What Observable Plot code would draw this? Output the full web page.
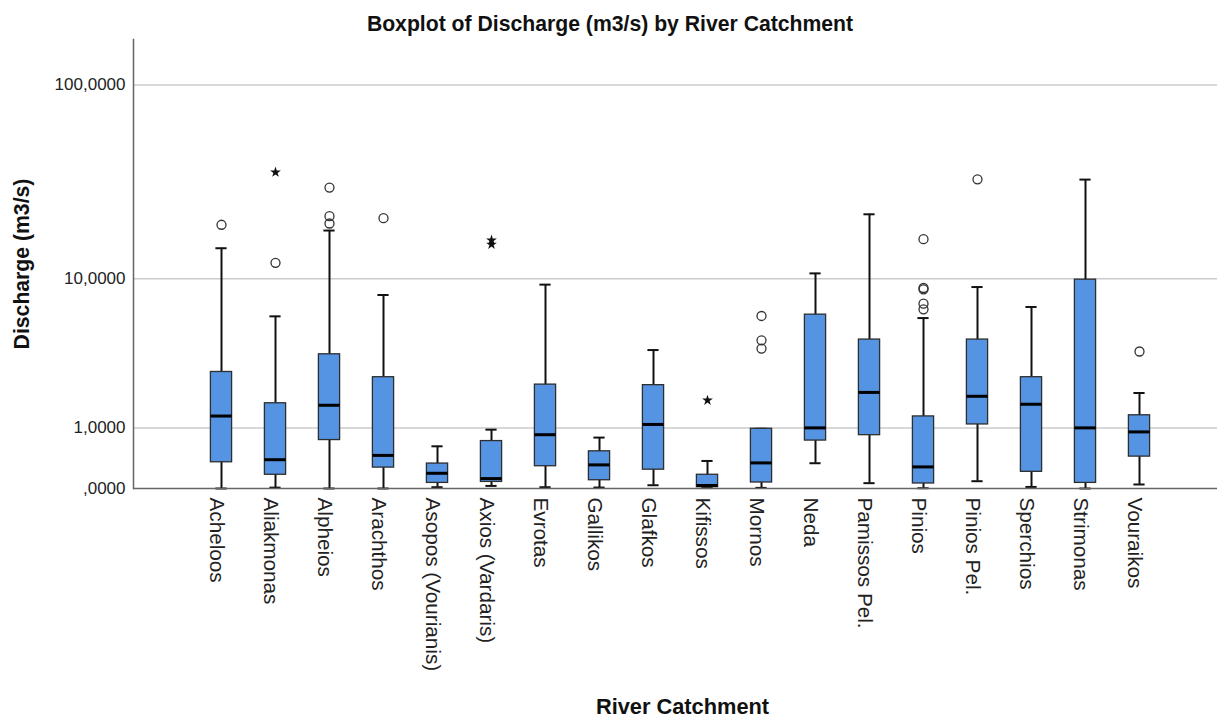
<!DOCTYPE html>
<html>
<head>
<meta charset="utf-8">
<script src="https://cdn.jsdelivr.net/npm/d3@7"></script>
<script src="https://cdn.jsdelivr.net/npm/@observablehq/plot@0.6"></script>
<style>
  html, body { margin: 0; padding: 0; background: #fff; }
  #title {
    font: bold 21.2px "Liberation Sans", Arial, sans-serif; color: #111;
    width: 1217px; height: 38px; line-height: 48px; overflow: visible;
    text-align: center; padding-left: 3px; box-sizing: border-box;
    white-space: nowrap;
  }
</style>
</head>
<body>
<div id="title">Boxplot of Discharge (m3/s) by River Catchment</div>
<div id="chart"></div>
<script>
// River catchments, in axis order
const rivers = [
  "Acheloos", "Aliakmonas", "Alpheios", "Arachthos", "Asopos (Vourianis)",
  "Axios (Vardaris)", "Evrotas", "Gallikos", "Glafkos", "Kifissos", "Mornos",
  "Neda", "Pamissos Pel.", "Pinios", "Pinios Pel.", "Sperchios", "Strimonas", "Vouraikos"
];

// Five-number summaries of discharge (m3/s) per catchment
const whiskerLow    = [0, 0.01, 0, 0, 0.015, 0.03, 0.015, 0.011, 0.038, 0.005, 0.007, 0.335, 0.063, 0.003, 0.087, 0.018, 0, 0.047];
const lowerQuartile = [0.35, 0.17, 0.74, 0.27, 0.066, 0.078, 0.29, 0.099, 0.24, 0.015, 0.071, 0.73, 0.84, 0.059, 1.08, 0.21, 0.066, 0.44];
const medians       = [1.29, 0.39, 1.59, 0.46, 0.19, 0.12, 0.85, 0.31, 1.08, 0.035, 0.34, 1.0, 2.0, 0.28, 1.87, 1.62, 1.0, 0.91];
const upperQuartile = [2.79, 1.65, 3.64, 2.57, 0.33, 0.72, 2.28, 0.53, 2.26, 0.17, 0.98, 6.30, 4.49, 1.28, 4.49, 2.57, 9.89, 1.31];
const whiskerHigh   = [14.6, 6.16, 18.1, 8.14, 0.62, 0.96, 9.29, 0.79, 3.87, 0.37, 0.98, 10.7, 22.0, 6.02, 9.01, 6.97, 33.2, 1.98];

// Outlying observations: "circle" = outlier, "extreme" = extreme value
const outlierRiver = [
  "Acheloos", "Aliakmonas", "Aliakmonas", "Alpheios", "Alpheios", "Alpheios",
  "Arachthos", "Axios (Vardaris)", "Axios (Vardaris)", "Kifissos",
  "Mornos", "Mornos", "Mornos", "Pinios", "Pinios", "Pinios", "Pinios", "Pinios",
  "Pinios Pel.", "Vouraikos"
];
const outlierValue = [
  19.4, 12.2, 36.2, 19.7, 21.5, 30.2,
  21.0, 15.3, 16.1, 1.74,
  3.95, 4.44, 6.19, 6.76, 7.28, 8.75, 8.9, 16.3,
  33.3, 3.79
];
const outlierKind = [
  "circle", "circle", "extreme", "circle", "circle", "circle",
  "circle", "extreme", "extreme", "extreme",
  "circle", "circle", "circle", "circle", "circle", "circle", "circle", "circle",
  "circle", "circle"
];

// Value axis ticks and their labels
const yTicks = [0, 1, 10, 100];
const yTickLabels = [",0000", "1,0000", "10,0000", "100,0000"];

const xTitle = "River Catchment";
const yTitle = "Discharge (m3/s)";

const stats = rivers.map((river, i) => ({
  river,
  low: whiskerLow[i],
  q1: lowerQuartile[i],
  median: medians[i],
  q3: upperQuartile[i],
  high: whiskerHigh[i]
}));
const outliers = outlierRiver.map((river, i) => ({river, value: outlierValue[i], kind: outlierKind[i]}));

const boxInset = 16.4;
const capInset = 21.4;

const chart = Plot.plot({
  width: 1217,
  height: 681,
  marginTop: 1,
  marginRight: 0,
  marginBottom: 231,
  marginLeft: 133,
  style: {fontFamily: '"Liberation Sans", Arial, sans-serif', background: "#fff", color: "#222"},
  x: {type: "band", domain: rivers, range: [187.6, 1173.1], padding: 0},
  y: {type: "symlog", constant: 1, domain: [0, 168.7]},
  marks: [
    // horizontal reference lines
    Plot.ruleY(yTicks.filter(d => d > 0), {stroke: "#cbcbcb", strokeWidth: 1.5}),
    // whiskers and caps
    Plot.ruleX(stats, {x: "river", y1: "low", y2: "high", stroke: "#111", strokeWidth: 2}),
    Plot.tickY(stats, {x: "river", y: "low", stroke: "#111", strokeWidth: 2, insetLeft: capInset, insetRight: capInset}),
    Plot.tickY(stats, {x: "river", y: "high", stroke: "#111", strokeWidth: 2, insetLeft: capInset, insetRight: capInset}),
    // interquartile boxes and medians
    Plot.barY(stats, {x: "river", y1: "q1", y2: "q3", fill: "#5593E3", stroke: "#2e2e2e", strokeWidth: 1.3, insetLeft: boxInset, insetRight: boxInset}),
    Plot.tickY(stats, {x: "river", y: "median", stroke: "#000", strokeWidth: 3, insetLeft: boxInset, insetRight: boxInset}),
    // outliers and extremes
    Plot.dot(outliers.filter(d => d.kind === "circle"), {x: "river", y: "value", r: 4.5, stroke: "#333", strokeWidth: 1.3, fill: "none"}),
    Plot.dot(outliers.filter(d => d.kind === "extreme"), {x: "river", y: "value", symbol: "star", r: 3.4, fill: "#111", stroke: "none"}),
    // axis lines
    Plot.ruleY([0], {stroke: "#666", strokeWidth: 1.5}),
    Plot.frame({anchor: "left", stroke: "#666", strokeWidth: 1.5}),
    // tick labels
    Plot.axisY({ticks: yTicks, tickFormat: d => yTickLabels[yTicks.indexOf(d)], tickSize: 0, tickPadding: 8, fontSize: 17, label: null, fill: "#222"}),
    Plot.axisX({tickRotate: 90, tickSize: 0, tickPadding: 9, fontSize: 20.7, label: null, dx: -5, fill: "#222"}),
    // axis titles
    Plot.text([yTitle], {text: d => d, frameAnchor: "left", rotate: -90, dx: -120, textAnchor: "middle", lineAnchor: "top", fontWeight: "bold", fontSize: 21.2, fill: "#111"}),
    Plot.text([xTitle], {text: d => d, frameAnchor: "bottom", dx: 7, dy: 225, lineAnchor: "bottom", fontWeight: "bold", fontSize: 21.8, fill: "#111"})
  ]
});

document.getElementById("chart").append(chart);
</script>
</body>
</html>
